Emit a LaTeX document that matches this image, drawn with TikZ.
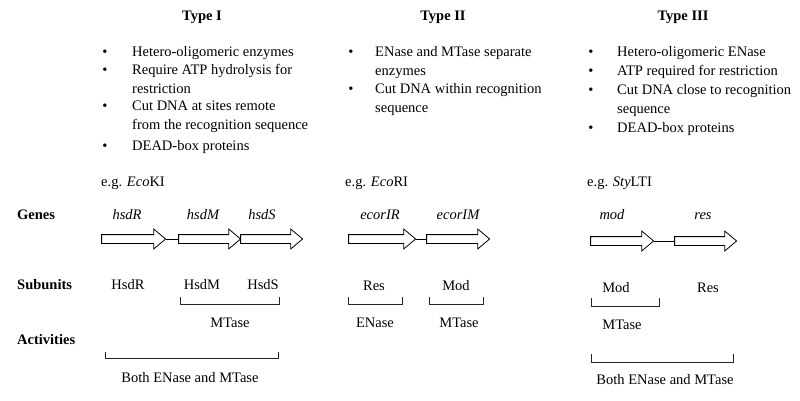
\documentclass[tikz,border=0pt]{standalone}
\usepackage{fontspec}
\setmainfont{Liberation Serif}
\usetikzlibrary{shapes,arrows.meta,positioning}

\tikzset{
  every node/.style={font=\fontsize{14.5}{18.5}\selectfont, inner sep=0pt},
  title/.style={font=\fontsize{14.5}{18.5}\selectfont\bfseries},
  rowname/.style={font=\fontsize{14.5}{18.5}\selectfont\bfseries, anchor=base west},
  item/.style={anchor=base west, align=left},
  % two-line items are placed by the baseline of their second line
  item2/.style={anchor=base west, align=left},
  dot/.style={anchor=base},
  lbl/.style={anchor=base},
  gene/.style={font=\fontsize{14.5}{18.5}\selectfont\itshape, anchor=base},
  genearrow/.style={draw, line width=0.8pt, single arrow, single arrow head extend=5.5pt,
    single arrow tip angle=80, minimum height=#1, minimum width=0pt,
    inner xsep=0pt, inner ysep=4pt},
  bracket/.style={line width=0.8pt, black!85}
}

\begin{document}
\begin{tikzpicture}[x=1pt, y=-1pt]
  \useasboundingbox (0,0) rectangle (800,401);

  % headings
  \node[title] (typeI) at (202,17) {Type I};
  \node[title] (typeII) at (443,17) {Type II};
  \node[title] (typeIII) at (683,17) {Type III};

  % type I properties
  \node[dot] (d11) at (105,57) {\textbullet};
  \node[item] (p11) at (132,57) {Hetero-oligomeric enzymes};
  \node[dot] (d12) at (105,75) {\textbullet};
  \node[item2] (p12) at (132,93.5) {Require ATP hydrolysis for\\restriction};
  \node[dot] (d13) at (105,111) {\textbullet};
  \node[item2] (p13) at (132,129.5) {Cut DNA at sites remote\\from the recognition sequence};
  \node[dot] (d14) at (105,150) {\textbullet};
  \node[item] (p14) at (132,150) {DEAD-box proteins};
  \node[item] (eg1) at (101,186) {e.g. \textit{Eco}KI};

  % type II properties
  \node[dot] (d21) at (351,57) {\textbullet};
  \node[item2] (p21) at (375,75.5) {ENase and MTase separate\\enzymes};
  \node[dot] (d22) at (351,94) {\textbullet};
  \node[item2] (p22) at (375,112.5) {Cut DNA within recognition\\sequence};
  \node[item] (eg2) at (345,186) {e.g. \textit{Eco}RI};

  % type III properties
  \node[dot] (d31) at (591,57) {\textbullet};
  \node[item] (p31) at (617,57) {Hetero-oligomeric ENase};
  \node[dot] (d32) at (591,76) {\textbullet};
  \node[item] (p32) at (617,76) {ATP required for restriction};
  \node[dot] (d33) at (591,95) {\textbullet};
  \node[item2] (p33) at (617,113.5) {Cut DNA close to recognition\\sequence};
  \node[dot] (d34) at (591,132) {\textbullet};
  \node[item] (p34) at (617,132) {DEAD-box proteins};
  \node[item] (eg3) at (587,186) {e.g. \textit{Sty}LTI};

  % row names
  \node[rowname] (genes) at (17,219) {Genes};
  \node[rowname] (subunits) at (17,289) {Subunits};
  \node[rowname] (activities) at (17,344) {Activities};

  % genes
  \node[gene] (nhsdR) at (127,219) {hsdR};
  \node[gene] (nhsdM) at (203,219) {hsdM};
  \node[gene] (nhsdS) at (262,219) {hsdS};
  \node[gene] (necorIR) at (380,219) {ecorIR};
  \node[gene] (necorIM) at (458,219) {ecorIM};
  \node[gene] (nmod) at (612,219) {mod};
  \node[gene] (nres) at (703,219) {res};

  \node[genearrow=64pt] (hsdR) at (131,239) {};
  \node[genearrow=62pt] (hsdM) at (207,239) {};
  \node[genearrow=62pt] (hsdS) at (269,239) {};
  \node[genearrow=67pt] (ecorIR) at (379.5,239) {};
  \node[genearrow=63pt] (ecorIM) at (455.5,239) {};
  \node[genearrow=63pt] (mod) at (619.5,241) {};
  \node[genearrow=62pt] (res) at (703,241) {};

  \draw[line width=0.8pt] (hsdR.tip) -- (hsdM.tail);
  \draw[line width=0.8pt] (ecorIR.tip) -- (ecorIM.tail);
  \draw[line width=0.8pt] (mod.tip) -- (res.tail);

  % subunits
  \node[lbl] (sHsdR) at (128,289) {HsdR};
  \node[lbl] (sHsdM) at (202,289) {HsdM};
  \node[lbl] (sHsdS) at (263,289) {HsdS};
  \node[lbl] (sRes2) at (374,290) {Res};
  \node[lbl] (sMod2) at (456,290) {Mod};
  \node[lbl] (sMod3) at (616,292) {Mod};
  \node[lbl] (sRes3) at (708,292) {Res};

  % activities
  \draw[bracket] (180,297) |- (279,304) -- (279,297);
  \node[lbl] (aMT1) at (230,327) {MTase};
  \draw[bracket] (105,352) |- (278,358) -- (278,352);
  \node[lbl] (aBoth1) at (190,382) {Both ENase and MTase};

  \draw[bracket] (348,297) |- (402,304) -- (402,297);
  \node[lbl] (aEN2) at (375,327) {ENase};
  \draw[bracket] (429,297) |- (483,304) -- (483,297);
  \node[lbl] (aMT2) at (459,327) {MTase};

  \draw[bracket] (591,298) |- (659,306) -- (659,298);
  \node[lbl] (aMT3) at (622,329) {MTase};
  \draw[bracket] (591,354) |- (733,362) -- (733,354);
  \node[lbl] (aBoth3) at (665,384) {Both ENase and MTase};
\end{tikzpicture}
\end{document}
